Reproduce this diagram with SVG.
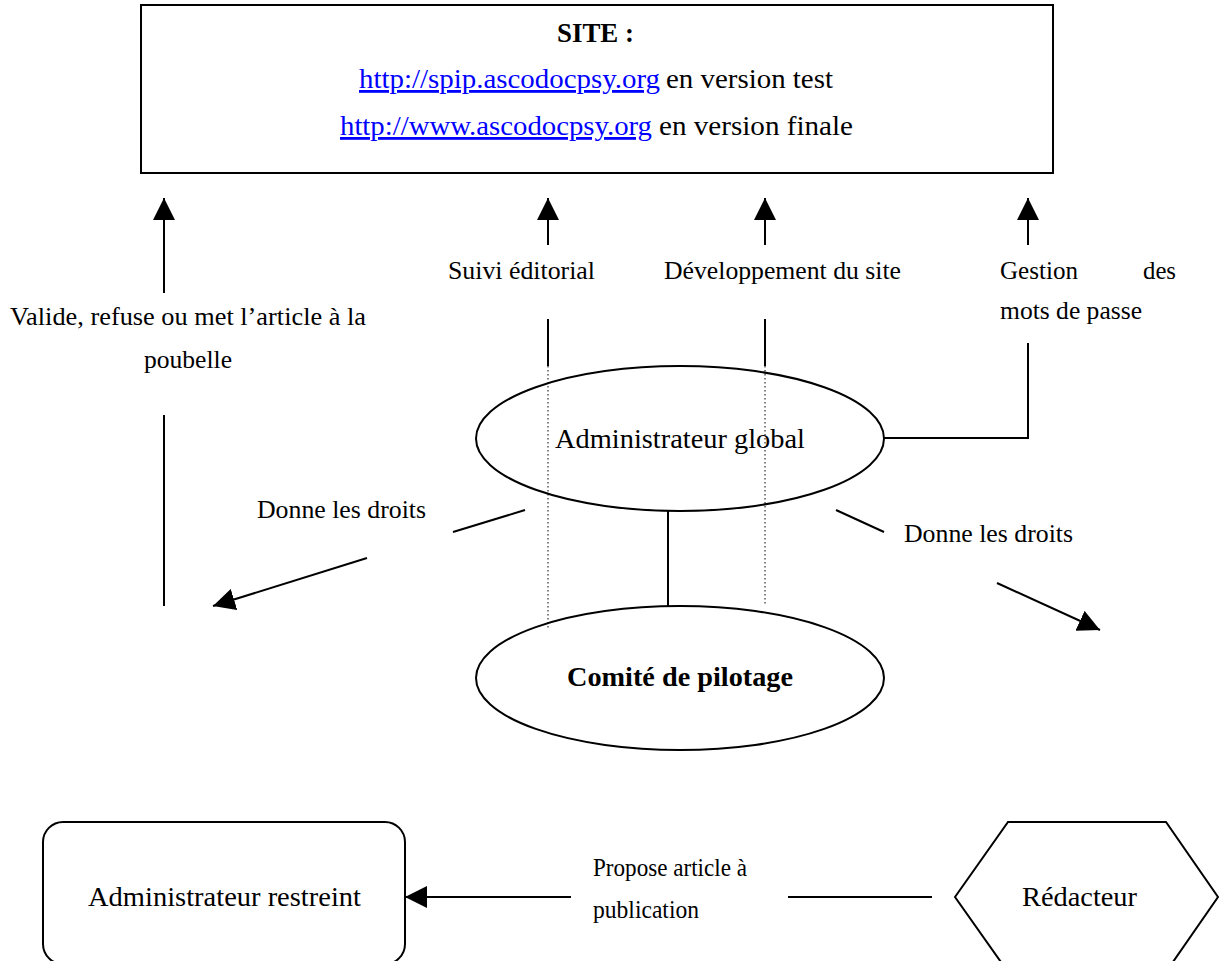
<svg xmlns="http://www.w3.org/2000/svg" width="1229" height="961" viewBox="0 0 1229 961">
<style>
  text { font-family: "Liberation Serif", "Times New Roman", serif; fill: #000; }
  .lbl { font-size: 25px; }
  .node { font-size: 28px; }
  .bold { font-weight: bold; }
  .link { fill: #0000ff; text-decoration: underline; }
  .shape { fill: #fff; stroke: #000; stroke-width: 2; }
  .ln { stroke: #000; stroke-width: 2; fill: none; }
  .dot { stroke: #000; stroke-width: 1; stroke-dasharray: 1.5 2.5; fill: none; }
</style>
<defs>
  <marker id="ah" markerUnits="userSpaceOnUse" markerWidth="22" markerHeight="22" viewBox="0 0 20 20" refX="20" refY="10" orient="auto">
    <path d="M0,0 L20,10 L0,20 z" fill="#000"/>
  </marker>
</defs>
<rect width="1229" height="961" fill="#fff"/>

<g id="site">
  <rect class="shape" x="141" y="5" width="912" height="168"/>
  <text class="node bold" x="557" y="42" textLength="77" lengthAdjust="spacingAndGlyphs">SITE :</text>
  <text class="node link" x="359" y="88" textLength="301" lengthAdjust="spacingAndGlyphs">http://spip.ascodocpsy.org</text>
  <text class="node" x="666" y="88" textLength="167" lengthAdjust="spacingAndGlyphs">en version test</text>
  <text class="node link" x="340" y="135" textLength="312" lengthAdjust="spacingAndGlyphs">http://www.ascodocpsy.org</text>
  <text class="node" x="659" y="135" textLength="194" lengthAdjust="spacingAndGlyphs">en version finale</text>
</g>

<g id="admin-global">
  <ellipse class="shape" cx="680" cy="438.5" rx="204" ry="72.5"/>
  <text class="node" x="555" y="448" textLength="250" lengthAdjust="spacingAndGlyphs">Administrateur global</text>
</g>

<g id="comite">
  <ellipse class="shape" cx="680" cy="678" rx="204" ry="72"/>
  <text class="node bold" x="567" y="686" textLength="226" lengthAdjust="spacingAndGlyphs">Comité de pilotage</text>
</g>

<g id="admin-restreint">
  <rect class="shape" x="43" y="822" width="362" height="142" rx="20" ry="20"/>
  <text class="node" x="88" y="906" textLength="273" lengthAdjust="spacingAndGlyphs">Administrateur restreint</text>
</g>

<g id="redacteur">
  <polygon class="shape" points="955,897 1008,822 1166,822 1218,897 1166,972 1008,972"/>
  <text class="node" x="1022" y="906" textLength="115" lengthAdjust="spacingAndGlyphs">Rédacteur</text>
</g>

<g id="connectors">
  <line class="ln" x1="164" y1="293" x2="164" y2="198" marker-end="url(#ah)"/>
  <line class="ln" x1="164" y1="415" x2="164" y2="606"/>
  <line class="ln" x1="548" y1="245" x2="548" y2="198" marker-end="url(#ah)"/>
  <line class="ln" x1="548" y1="319" x2="548" y2="366"/>
  <line class="dot" x1="548" y1="366" x2="548" y2="630"/>
  <line class="ln" x1="765" y1="245" x2="765" y2="198" marker-end="url(#ah)"/>
  <line class="ln" x1="765" y1="319" x2="765" y2="366"/>
  <line class="dot" x1="765" y1="366" x2="765" y2="606"/>
  <line class="ln" x1="1028" y1="245" x2="1028" y2="198" marker-end="url(#ah)"/>
  <polyline class="ln" points="1028,343 1028,438 884,438"/>
  <line class="ln" x1="668" y1="511" x2="668" y2="606"/>
  <line class="ln" x1="525" y1="510" x2="453" y2="532"/>
  <line class="ln" x1="367" y1="558" x2="213" y2="606" marker-end="url(#ah)"/>
  <line class="ln" x1="836" y1="510" x2="884" y2="532"/>
  <line class="ln" x1="997" y1="583" x2="1100" y2="630" marker-end="url(#ah)"/>
  <line class="ln" x1="932" y1="897" x2="788" y2="897"/>
  <line class="ln" x1="571" y1="897" x2="405" y2="897" marker-end="url(#ah)"/>
</g>

<g id="labels">
  <text class="lbl" x="10" y="325" textLength="356" lengthAdjust="spacingAndGlyphs">Valide, refuse ou met l’article à la</text>
  <text class="lbl" x="144" y="368" textLength="88" lengthAdjust="spacingAndGlyphs">poubelle</text>
  <text class="lbl" x="448" y="279" textLength="147" lengthAdjust="spacingAndGlyphs">Suivi éditorial</text>
  <text class="lbl" x="664" y="279" textLength="237" lengthAdjust="spacingAndGlyphs">Développement du site</text>
  <text class="lbl" x="1000" y="279" textLength="78" lengthAdjust="spacingAndGlyphs">Gestion</text>
  <text class="lbl" x="1143" y="279" textLength="33" lengthAdjust="spacingAndGlyphs">des</text>
  <text class="lbl" x="1000" y="319" textLength="142" lengthAdjust="spacingAndGlyphs">mots de passe</text>
  <text class="lbl" x="257" y="518" textLength="169" lengthAdjust="spacingAndGlyphs">Donne les droits</text>
  <text class="lbl" x="904" y="542" textLength="169" lengthAdjust="spacingAndGlyphs">Donne les droits</text>
  <text class="lbl" x="593" y="876" textLength="154" lengthAdjust="spacingAndGlyphs">Propose article à</text>
  <text class="lbl" x="593" y="918" textLength="106" lengthAdjust="spacingAndGlyphs">publication</text>
</g>
</svg>
